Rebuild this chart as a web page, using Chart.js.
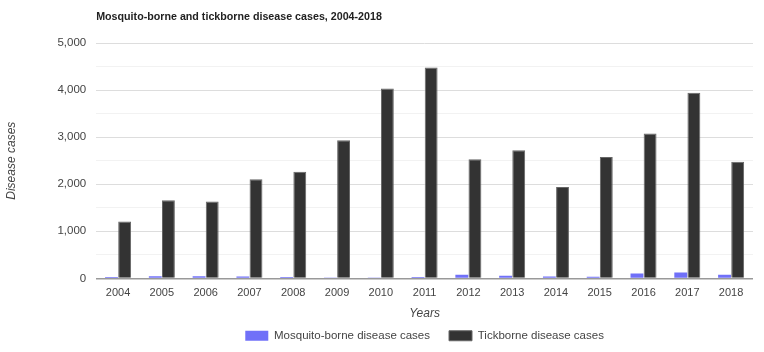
<!DOCTYPE html>
<html>
<head>
<meta charset="utf-8">
<script src="https://cdn.jsdelivr.net/npm/chart.js@4/dist/chart.umd.min.js"></script>
<style>
  body { margin: 0; background: #fff; }
</style>
</head>
<body>
<canvas id="myChart" width="764" height="352"></canvas>
<script>
const years = ['2004', '2005', '2006', '2007', '2008', '2009', '2010', '2011',
               '2012', '2013', '2014', '2015', '2016', '2017', '2018'];
const mosquitoCases = [30, 45, 45, 40, 30, 10, 20, 30, 78, 57, 42, 35, 106, 127, 78];
const tickCases = [1208, 1661, 1631, 2106, 2267, 2932, 4034, 4479, 2530, 2720, 1943, 2578, 3080, 3941, 2479];
const chartTitle = 'Mosquito-borne and tickborne disease cases, 2004-2018';

Chart.defaults.font.family = '"Liberation Sans", Arial, sans-serif';
Chart.defaults.color = '#444';

// title drawn at the left of the plot area, not the canvas
const titlePlugin = {
    id: 'leftTitle',
    afterLayout(chart) {
        // centre the legend under the plot area instead of the whole canvas
        const lg = chart.legend;
        lg.left = chart.chartArea.left;
        lg.right = chart.chartArea.right;
        lg.top -= 10;
        lg.bottom -= 10;
    },
    afterDraw(chart) {
        const ctx = chart.ctx;
        ctx.save();
        ctx.font = 'bold 10.7px "Liberation Sans", Arial, sans-serif';
        ctx.fillStyle = '#222';
        ctx.textBaseline = 'middle';
        ctx.fillText(chartTitle, chart.chartArea.left, 17);
        ctx.restore();
    }
};

const ctx = document.getElementById('myChart').getContext('2d');
const myChart = new Chart(ctx, {
    type: 'bar',
    data: {
        labels: years,
        datasets: [{
            label: 'Mosquito-borne disease cases',
            data: mosquitoCases,
            backgroundColor: '#7070f8',
            borderWidth: 0
        }, {
            label: 'Tickborne disease cases',
            data: tickCases,
            backgroundColor: '#333333',
            borderColor: '#666666',
            borderWidth: 1
        }]
    },
    options: {
        responsive: false,
        animation: false,
        categoryPercentage: 0.6,
        barPercentage: 0.98,
        layout: { padding: { top: 43, right: 11, left: 4, bottom: -9.5 } },
        plugins: {
            legend: {
                position: 'bottom',
                labels: { boxWidth: 23, boxHeight: 10, padding: 19, font: { size: 11.5 } }
            },
            tooltip: { enabled: false }
        },
        scales: {
            x: {
                grid: { display: false },
                border: { display: false },
                ticks: { font: { size: 11 }, padding: 0, maxRotation: 0 },
                title: { display: true, text: 'Years', font: { size: 12, style: 'italic' }, padding: { top: 7, bottom: 0 } }
            },
            y: {
                min: 0,
                max: 5000,
                beginAtZero: true,
                border: { display: false },
                grid: {
                    drawTicks: false,
                    color: c => c.tick.value === 0 ? '#999' : (c.tick.value % 1000 === 0 ? '#dddddd' : '#f2f2f2'),
                    lineWidth: c => c.tick.value === 0 ? 1.5 : 1
                },
                ticks: {
                    stepSize: 500,
                    padding: 10,
                    font: { size: 11.5 },
                    callback: v => v % 1000 === 0 ? v.toLocaleString('en-US') : ''
                },
                title: { display: true, text: 'Disease cases', font: { size: 12, style: 'italic' }, padding: { top: 0, bottom: 29 } }
            }
        }
    },
    plugins: [titlePlugin]
});
</script>
</body>
</html>
